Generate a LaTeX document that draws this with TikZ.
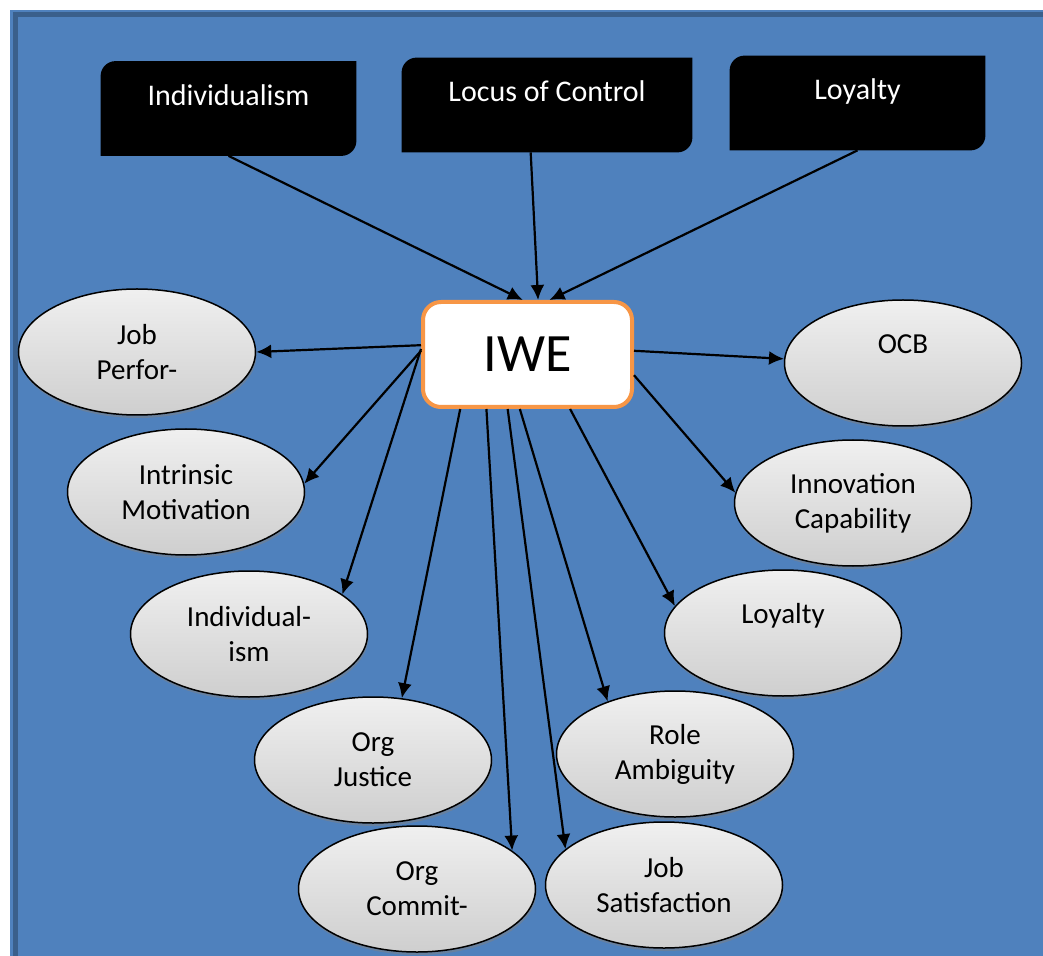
\documentclass[tikz,border=0pt]{standalone}
\usepackage{fontspec}
\setmainfont{Carlito}
\usetikzlibrary{arrows.meta,shapes.geometric,shadows}
\pgfdeclarelayer{background}
\pgfsetlayers{background,main}
\definecolor{bgblue}{HTML}{4F81BD}
\definecolor{bgedge}{HTML}{3A5F8B}
\definecolor{iweorange}{HTML}{F79646}

\begin{document}
\begin{tikzpicture}[x=0.5pt,y=-0.5pt,>={Latex[length=7.5pt,width=7pt]},
  top node/.style={minimum height=47pt,inner sep=0pt,text=white,
    font=\fontsize{15}{18}\selectfont,text height=10.5pt,text depth=13.5pt},
  main node/.style={rectangle,rounded corners=9pt,draw=iweorange,line width=2pt,fill=white,
    minimum width=104.5pt,minimum height=52.5pt,font=\fontsize{27}{30}\selectfont},
  oval node/.style={ellipse,draw,line width=0.75pt,top color=gray!12,bottom color=gray!38,
    minimum width=118.5pt,minimum height=63pt,inner sep=0pt,align=center,
    font=\fontsize{14.5}{17.5}\selectfont,
    drop shadow={shadow xshift=0.5pt,shadow yshift=-1.5pt,opacity=0.5}},
  high text/.style={text height=10pt,text depth=19.5pt}]

  \useasboundingbox (0,0) rectangle (1043,956);
  \begin{pgfonlayer}{background}
    \fill[bgblue] (10,10) rectangle (1070,980);
    \draw[bgedge,line width=2.5pt] (15,980) -- (15,15) -- (1070,15);
  \end{pgfonlayer}

  % antecedents
  \node[top node,minimum width=127.5pt] (indv) at (228.5,108.5) {Individualism};
  \node[top node,minimum width=145pt]   (loc)  at (547,105)     {Locus of Control};
  \node[top node,minimum width=127.5pt] (loy)  at (857.5,103)   {Loyalty};

  \node[main node] (iwe) at (527.5,354.5) {IWE};

  % outcomes
  \node[oval node] (jobperf)   at (137,352) {Job\\Perfor-};
  \node[oval node] (intrinsic) at (186,492) {Intrinsic\\Motivation};
  \node[oval node] (indiv)     at (249,634) {Individual-\\ism};
  \node[oval node] (orgjust)   at (373,760) {Org\\Justice};
  \node[oval node] (orgcommit) at (417,889) {Org\\Commit-};
  \node[oval node] (jobsat)    at (664,885) {Job\\Satisfaction};
  \node[oval node] (roleamb)   at (675,754) {Role\\Ambiguity};
  \node[oval node,high text] (loyal) at (783,633) {Loyalty};
  \node[oval node] (innov)     at (853,503) {Innovation\\Capability};
  \node[oval node,high text] (ocb)   at (903,363) {OCB};

  \begin{pgfonlayer}{background}
    \foreach \n in {indv,loc,loy}
      \fill (\n.south west) -- ([yshift=-7.5pt]\n.north west)
        arc[start angle=180,end angle=90,radius=7.5pt] -- (\n.north east)
        -- ([yshift=7.5pt]\n.south east)
        arc[start angle=0,end angle=-90,radius=7.5pt] -- cycle;
  \end{pgfonlayer}

  \path[->,line width=1.1pt]
    (indv.south) edge (iwe.95)
    (loc.251)    edge (iwe.79)
    (loy.south)  edge (iwe.68)
    (iwe.175) edge (jobperf.east)
    (iwe.178) edge (intrinsic.4)
    (iwe.177) edge (indiv.23)
    (iwe.219) edge (orgjust.65)
    (iwe.233) edge (orgcommit.22)
    (iwe.250) edge (jobsat.160)
    (iwe.262) edge (roleamb.142)
    (iwe.308) edge (loyal.166)
    (iwe.349) edge (innov.175)
    (iwe.2)   edge (ocb.178);

\end{tikzpicture}
\end{document}
